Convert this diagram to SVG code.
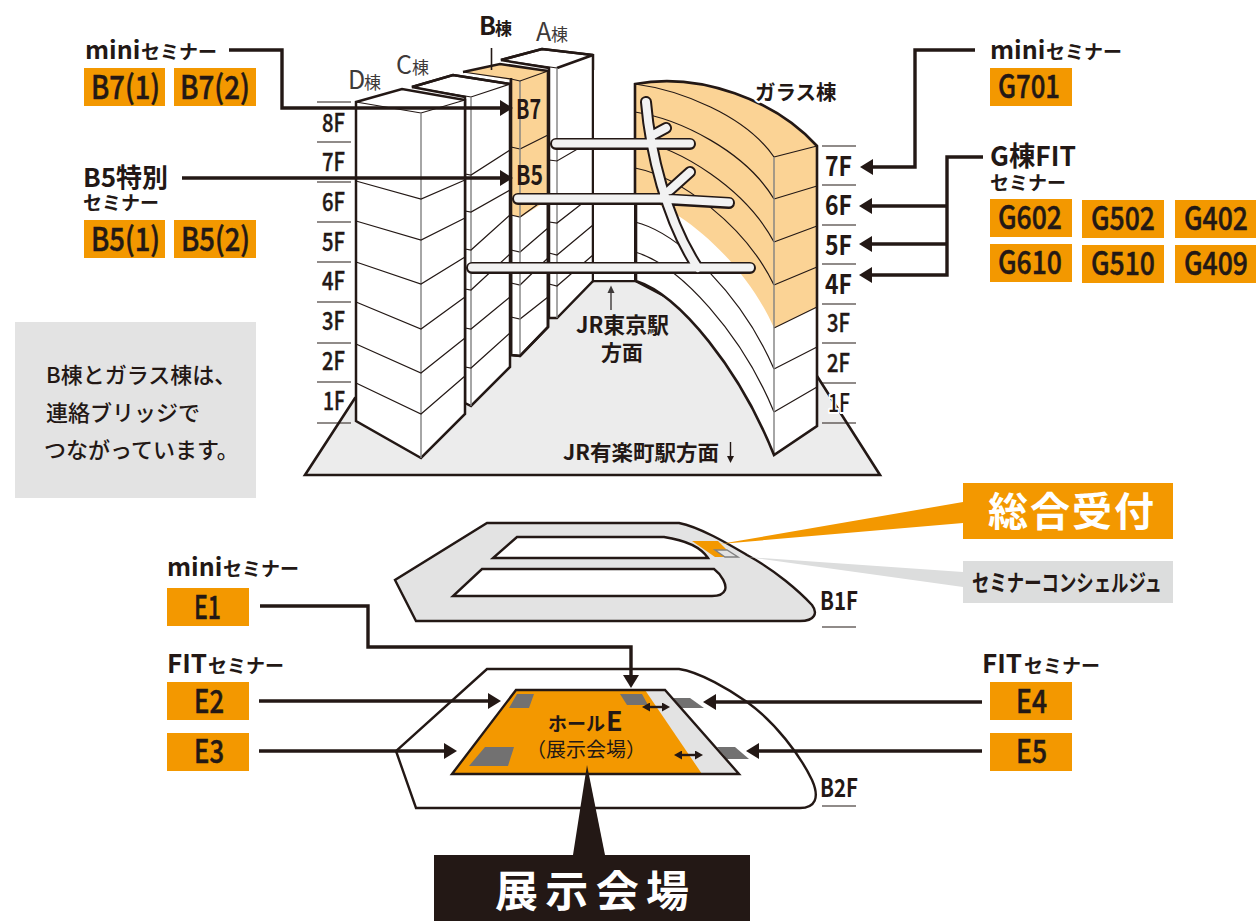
<svg xmlns="http://www.w3.org/2000/svg" width="1256" height="921" viewBox="0 0 1256 921">
<style>
text{font-family:"Noto Sans CJK JP","Noto Sans",sans-serif;fill:#231815}
.b{font-weight:700}.m{font-weight:500}
.lab{font-size:19px;font-weight:700}
.box{fill:#f39800}
.bt{font-size:32px;font-weight:500;stroke:#231815;stroke-width:.5px}
.fl{font-size:25px;font-weight:500;stroke:#231815;stroke-width:.4px}
.flb{font-size:27px;font-weight:700}
.halo{paint-order:stroke;stroke:#fff;stroke-width:4px;stroke-linejoin:round}
.w{fill:#fff;stroke:#231815;stroke-width:2.5;stroke-linejoin:miter}
.t{fill:none;stroke:#231815;stroke-width:1.2}
.c{fill:none;stroke:#808080;stroke-width:1.4}
.e{fill:none;stroke:#231815;stroke-width:2.6;stroke-linejoin:miter}
.tick{stroke:#231815;stroke-width:1.2}
.conn{fill:none;stroke:#231815;stroke-width:3.4}
.plan{fill:#e3e3e3;stroke:#231815;stroke-width:2.4;stroke-linejoin:miter}
.hole{fill:#fff;stroke:#231815;stroke-width:2.4;stroke-linejoin:miter}
.pad{fill:#727171}
.dk{fill:#3e3a39}
</style>
<defs>
<marker id="ah" markerUnits="userSpaceOnUse" markerWidth="14" markerHeight="16" refX="7" refY="8" orient="auto"><path d="M0,0L13,8L0,16Z" fill="#231815"/></marker>
<marker id="dh" markerUnits="userSpaceOnUse" markerWidth="8" markerHeight="9" refX="3" refY="4.5" orient="auto-start-reverse"><path d="M0,0L8,4.5L0,9Z" fill="#231815"/></marker>
</defs>

<g id="ground"><path d="M305,475L355,398L593,281L636,281L817,376L880,475Z" fill="#ececec" stroke="#231815" stroke-width="2.6"/></g>

<g id="building-A">
<path class="w" d="M549,68V318L557,318L593,281V55L542,49L501,60L549,68Z"/>
<path class="e" d="M501,60L542,49L593,55L557,68"/>
<path class="t" d="M501,60L557,68"/>
<path class="c" d="M557,68V318"/>
<path class="t" d="M549,160L557,161L593,140M549,222L557,223L593,195M549,253L557,255L593,225M549,284L557,286L593,255"/>
</g>

<g id="building-B">
<path class="w" d="M511,80V355L520,356L548,327V71H510Z"/>
<path d="M463,72L500,64L548,71V200L521,217L511,215V80Z" fill="#fbd395"/>
<path class="t" d="M520,149L548,135M511,147L520,149"/>
<path class="t" d="M511,215L520,217L548,197M511,250L520,252L548,228M511,283L520,285L548,258M511,317L520,319L548,297"/>
<path class="c" d="M520,81V356"/>
<path class="e" d="M463,72L500,64L548,71V327L520,356L511,355V78"/>
<path class="t" d="M463,72L511,79L520,81L548,71"/>
</g>

<g id="building-C">
<path class="w" d="M465,97V403L471,406L510,367V84L453,75L412,87Z"/>
<path class="e" d="M412,87L453,75L510,84"/>
<path class="t" d="M412,87L471,97L510,84"/>
<path class="c" d="M471,97V406"/>
<path class="t" d="M465,174L471,175L510,150M465,211L471,212L510,190M465,249L471,250L510,215M465,289L471,290L510,254M465,328L471,329L510,297M465,367L471,368L510,333"/>
</g>

<g id="building-D">
<path class="w" d="M356,102V421L421,458L465,414V100L402,89Z"/>
<path class="t" d="M356,102L421,113L465,100"/>
<path class="c" d="M421,113V458"/>
<path class="t" d="M356,181L421,199L465,180M356,221L421,240L465,218M356,262L421,284L465,257M356,302L421,329L465,297M356,344L421,373L465,338M356,383L421,414L465,376"/>
</g>

<g id="building-glass">
<path d="M593,70H635V281H593Z" fill="#fff"/>
<path d="M593,70V281H636M635,84V281" fill="none" stroke="#231815" stroke-width="2"/>
<path d="M635,84C700,72 775,100 817,146V426L774,455C740,370 680,295 636,281Z" fill="#fff"/>
<path d="M635,84C700,72 775,100 817,146V307L774,328C745,262 680,206 635,196Z" fill="#fbd395"/>
<path class="t" d="M635,84C680,90 745,115 774,157M635,112C680,119 745,151 774,199M635,140C680,148 745,188 774,242M635,168C680,177 745,225 774,285M635,222C680,233 743,297 774,369M635,252C680,265 742,334 774,412"/>
<path class="t" d="M774,157L817,146M774,199L817,186M774,242L817,226M774,285L817,267M774,328L817,307M774,369L817,347M774,412L817,387"/>
<path class="c" d="M774,157V455"/>
<path class="e" d="M635,196V84C700,72 775,100 817,146V426L774,455C740,370 680,295 636,281V196"/>
</g>

<g id="bridges">
<path d="M556,144H690M518,199H660L729,203M472,268H750M646,102C650,150 666,220 698,268M653,135L666,128M670,190L690,172" fill="none" stroke="#231815" stroke-width="12" stroke-linecap="round"/>
<path d="M556,143.500H690M518,198.500H660L729,202.500M472,267.500H750M646,102C650,150 666,220 698,268M653,135L666,128M670,190L690,172" fill="none" stroke="#f2f2f2" stroke-width="8" stroke-linecap="round"/>
</g>

<g id="floors-left">
<path class="tick" d="M317,102H351M317,142H351M317,182H351M317,222H351M317,262H351M317,302H351M317,343H351M317,382H351M317,423H351"/>
<text class="fl" x="322" y="132" textLength="23" lengthAdjust="spacingAndGlyphs">8F</text>
<text class="fl" x="322" y="171" textLength="23" lengthAdjust="spacingAndGlyphs">7F</text>
<text class="fl" x="322" y="211" textLength="23" lengthAdjust="spacingAndGlyphs">6F</text>
<text class="fl" x="322" y="251" textLength="23" lengthAdjust="spacingAndGlyphs">5F</text>
<text class="fl" x="322" y="290" textLength="23" lengthAdjust="spacingAndGlyphs">4F</text>
<text class="fl" x="322" y="330" textLength="23" lengthAdjust="spacingAndGlyphs">3F</text>
<text class="fl" x="322" y="370" textLength="23" lengthAdjust="spacingAndGlyphs">2F</text>
<text class="fl" x="323" y="410" textLength="22" lengthAdjust="spacingAndGlyphs">1F</text>
</g>

<g id="floors-right">
<path class="tick" d="M822,146H856M822,185H856M822,225H856M822,264H856M822,304H856M822,343H856M822,383H856M822,423H856"/>
<text class="flb" x="825" y="176" textLength="27" lengthAdjust="spacingAndGlyphs">7F</text>
<text class="flb" x="825" y="215" textLength="27" lengthAdjust="spacingAndGlyphs">6F</text>
<text class="flb" x="825" y="255" textLength="27" lengthAdjust="spacingAndGlyphs">5F</text>
<text class="flb" x="825" y="294" textLength="27" lengthAdjust="spacingAndGlyphs">4F</text>
<text class="fl" x="827" y="332" textLength="23" lengthAdjust="spacingAndGlyphs">3F</text>
<text class="fl" x="827" y="372" textLength="23" lengthAdjust="spacingAndGlyphs">2F</text>
<text class="fl" x="828" y="412" textLength="22" lengthAdjust="spacingAndGlyphs" style="paint-order:stroke;stroke:#fff;stroke-width:4px;stroke-linejoin:round">1F</text>
</g>

<g id="building-labels">
<text class="dk" x="348" y="89" font-size="25" style="fill:#3e3a39">D<tspan x="364" font-size="17">棟</tspan></text>
<text x="396" y="74" font-size="25" style="fill:#3e3a39">C<tspan x="412" font-size="17">棟</tspan></text>
<text x="536" y="41" font-size="25" style="fill:#3e3a39">A<tspan x="551" font-size="17">棟</tspan></text>
<text class="b" x="479" y="35" font-size="25">B<tspan x="495" font-size="17">棟</tspan></text>
<path d="M491.500,48V70" stroke="#231815" stroke-width="1.6"/>
<text class="b halo" x="755" y="100" font-size="20.500">ガラス棟</text>
<text class="b" x="516" y="119" font-size="27" textLength="25" lengthAdjust="spacingAndGlyphs">B7</text>
<text class="b" x="516" y="185" font-size="27" textLength="27" lengthAdjust="spacingAndGlyphs">B5</text>
<text class="b" x="576" y="333" font-size="22" textLength="93" lengthAdjust="spacingAndGlyphs">JR東京駅</text>
<text class="b" x="601" y="360" font-size="21">方面</text>
<text class="b" x="563" y="460" font-size="21" textLength="156" lengthAdjust="spacingAndGlyphs">JR有楽町駅方面</text>
<path d="M611,292V310" stroke="#3e3a39" stroke-width="1.4"/><path d="M607.500,293L611,285.500L614.500,293Z" fill="#3e3a39"/>
<path d="M730.500,442V458" stroke="#231815" stroke-width="1.4"/><path d="M727,456L730.500,463L734,456Z" fill="#231815"/>
</g>

<g id="b7-mini">
<text class="b" x="85" y="59" font-size="25">mini<tspan class="lab" x="141">セミナー</tspan></text>
<rect class="box" x="84" y="68" width="81" height="38"/><text class="bt" x="91" y="99" textLength="69" lengthAdjust="spacingAndGlyphs">B7(1)</text>
<rect class="box" x="174" y="68" width="82" height="38"/><text class="bt" x="180" y="99" textLength="70" lengthAdjust="spacingAndGlyphs">B7(2)</text>
</g>
<g id="b5-special">
<text class="b" x="83" y="187" font-size="26">B5特別</text>
<text class="lab" x="83" y="210">セミナー</text>
<rect class="box" x="84" y="220" width="81" height="38"/><text class="bt" x="91" y="251" textLength="69" lengthAdjust="spacingAndGlyphs">B5(1)</text>
<rect class="box" x="174" y="220" width="82" height="38"/><text class="bt" x="181" y="251" textLength="69" lengthAdjust="spacingAndGlyphs">B5(2)</text>
</g>
<g id="note">
<rect x="15" y="322" width="241" height="176" fill="#e3e3e3"/>
<text class="m" x="46" y="383" font-size="22">B棟とガラス棟は、</text>
<text class="m" x="46" y="421" font-size="22">連絡ブリッジで</text>
<text class="m" x="44" y="458" font-size="22">つながっています。</text>
</g>
<g id="g-mini">
<text class="b" x="990" y="59" font-size="25">mini<tspan class="lab" x="1046">セミナー</tspan></text>
<rect class="box" x="990" y="68" width="82" height="38"/><text class="bt" x="998" y="98" textLength="62" lengthAdjust="spacingAndGlyphs">G701</text>
</g>
<g id="g-fit">
<text class="b" x="990" y="166" font-size="27" textLength="86" lengthAdjust="spacingAndGlyphs">G棟FIT</text>
<text class="lab" x="990" y="190">セミナー</text>
<rect class="box" x="990" y="199" width="82" height="38"/><text class="bt" x="998" y="229" textLength="64" lengthAdjust="spacingAndGlyphs">G602</text>
<rect class="box" x="1082" y="200" width="82" height="38"/><text class="bt" x="1091" y="230" textLength="64" lengthAdjust="spacingAndGlyphs">G502</text>
<rect class="box" x="1175" y="200" width="81" height="38"/><text class="bt" transform="translate(1184,230) scale(.83,1)">G402</text>
<rect class="box" x="990" y="244" width="82" height="38"/><text class="bt" x="998" y="274" textLength="64" lengthAdjust="spacingAndGlyphs">G610</text>
<rect class="box" x="1082" y="245" width="82" height="38"/><text class="bt" x="1091" y="275" textLength="64" lengthAdjust="spacingAndGlyphs">G510</text>
<rect class="box" x="1175" y="245" width="81" height="38"/><text class="bt" transform="translate(1184,275) scale(.83,1)">G409</text>
</g>

<g id="floor-b1">
<path class="plan" d="M487,523H679C700,527 730,545 747,555C775,570 800,592 812,605C818,613 815,621 800,621H416L395,580Z"/>
<path class="hole" d="M517,537H664C684,540 700,546 708,558H493Z"/>
<path class="hole" d="M482,569H714C722,575 727,585 725,590C723,595 718,596 712,596H453Z"/>
<path d="M692,541H718L727,550H715L725,557H715Z" fill="#f39800"/>
<path d="M715,550H727L738,557H725Z" fill="#e3e3e3" stroke="#808080" stroke-width="1.4"/>
<path d="M720,544L963,502V523Z" fill="#f39800"/>
<path d="M747,557L963,572V587Z" fill="#dcdddd"/>
<text class="b" x="820" y="610" font-size="25" textLength="38" lengthAdjust="spacingAndGlyphs">B1F</text>
<path class="tick" d="M822,627H856"/>
</g>
<g id="reception">
<rect class="box" x="963" y="483" width="210" height="56"/>
<text class="b" x="988" y="526" font-size="40" textLength="166" style="fill:#fff">総合受付</text>
</g>
<g id="concierge">
<rect x="963" y="561" width="210" height="42" fill="#dcdddd"/>
<text class="b" x="972" y="591" font-size="23" textLength="190" lengthAdjust="spacingAndGlyphs">セミナーコンシェルジュ</text>
</g>

<g id="floor-b2">
<path class="plan" style="fill:#fff" d="M487,669H679C700,672 730,690 747,702C775,722 800,755 812,780C820,798 815,808 800,808H416L396,751Z"/>
<path d="M516,690H665L739,774H452Z" fill="#e3e3e3"/>
<path d="M516,690H645L702,774H452Z" fill="#f39800"/>
<path class="pad" d="M517,694H534L529,708H509Z"/>
<path class="pad" d="M620,694H642L648,705H627Z"/>
<path class="pad" d="M673,698H690L704,708H682Z"/>
<path class="pad" d="M717,747H735L749,759H727Z"/>
<path class="pad" d="M485,747H514L508,766H469Z"/>
<path d="M516,690H665L739,774H452Z" fill="none" stroke="#231815" stroke-width="2.4"/>
<path d="M647,707H665" fill="none" stroke="#231815" stroke-width="2.4" marker-start="url(#dh)" marker-end="url(#dh)"/>
<path d="M679,755H698" fill="none" stroke="#231815" stroke-width="2.4" marker-start="url(#dh)" marker-end="url(#dh)"/>
<text class="b" x="548" y="731" font-size="19">ホール<tspan x="606" font-size="27">E</tspan></text>
<text x="526" y="757" font-size="20">（展示会場）</text>
<text class="b" x="820" y="797" font-size="25" textLength="38" lengthAdjust="spacingAndGlyphs">B2F</text>
<path class="tick" d="M822,806H856"/>
<path d="M587,765L605,855H573Z" fill="#231815"/>
</g>
<g id="hall-label">
<rect x="434" y="855" width="316" height="66" fill="#231815"/>
<text class="b" x="495" y="907" font-size="43" textLength="194" style="fill:#fff">展示会場</text>
</g>

<g id="e-left">
<text class="b" x="167" y="576" font-size="25">mini<tspan class="lab" x="223">セミナー</tspan></text>
<rect class="box" x="167" y="588" width="82" height="38"/><text class="bt" x="194" y="619" textLength="27" lengthAdjust="spacingAndGlyphs">E1</text>
<text class="b" x="167" y="673" font-size="26">FIT<tspan class="lab" x="208">セミナー</tspan></text>
<rect class="box" x="167" y="682" width="82" height="38"/><text class="bt" x="194" y="713" textLength="30" lengthAdjust="spacingAndGlyphs">E2</text>
<rect class="box" x="167" y="733" width="82" height="38"/><text class="bt" x="194" y="763" textLength="30" lengthAdjust="spacingAndGlyphs">E3</text>
</g>
<g id="e-right">
<text class="b" x="982" y="673" font-size="26">FIT<tspan class="lab" x="1024">セミナー</tspan></text>
<rect class="box" x="990" y="682" width="82" height="38"/><text class="bt" x="1016" y="713" textLength="31" lengthAdjust="spacingAndGlyphs">E4</text>
<rect class="box" x="990" y="733" width="82" height="38"/><text class="bt" x="1016" y="763" textLength="31" lengthAdjust="spacingAndGlyphs">E5</text>
</g>

<g id="connectors">
<path class="conn" marker-end="url(#ah)" d="M229,50H282V108H507"/>
<path class="conn" marker-end="url(#ah)" d="M182,178H507"/>
<path class="conn" marker-end="url(#ah)" d="M975,50H915V167H866"/>
<path class="conn" marker-end="url(#ah)" d="M983,157H947V275H865"/>
<path class="conn" marker-end="url(#ah)" d="M947,206H865"/>
<path class="conn" marker-end="url(#ah)" d="M947,244H865"/>
<path class="conn" marker-end="url(#ah)" d="M260,606H368V647H631V682"/>
<path class="conn" marker-end="url(#ah)" d="M259,701H495"/>
<path class="conn" marker-end="url(#ah)" d="M259,751H451"/>
<path class="conn" marker-end="url(#ah)" d="M982,702H709"/>
<path class="conn" marker-end="url(#ah)" d="M982,751H752"/>
</g>
</svg>
